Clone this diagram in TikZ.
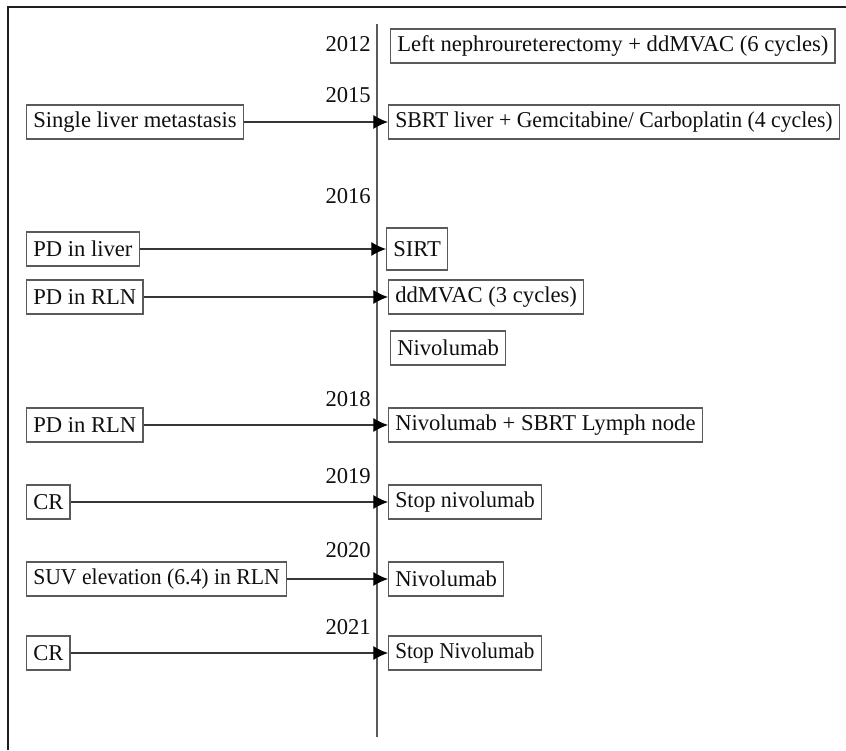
\documentclass[tikz,border=0pt]{standalone}
\usepackage{fontspec}
\usepackage{graphicx}
\setmainfont{Liberation Serif}
\usetikzlibrary{arrows.meta,positioning}
\definecolor{ink}{RGB}{15,15,15}
\definecolor{edge}{RGB}{90,90,90}
\definecolor{frame}{RGB}{30,30,30}
\newcommand{\hsq}[2]{\scalebox{#1}[1]{#2}}
\tikzset{
  >={Latex[length=4.4mm,width=4.2mm,fill=black,color=black]},
  ev/.style={draw=edge,line width=1pt,anchor=west,minimum height=1.02cm,
    inner xsep=2mm,inner ysep=0pt,text=ink,font=\fontsize{19.3}{22}\selectfont},
  yr/.style={anchor=east,inner sep=0pt,text=ink,font=\fontsize{19.3}{22}\selectfont},
  flow/.style={->,draw=edge!60!black,line width=1pt},
  axis/.style={draw=edge,line width=1pt},
}

\begin{document}
\begin{tikzpicture}[x=0.03cm,y=-0.03cm]
    \useasboundingbox (0,0) rectangle (846,750);
    \draw[frame,line width=1.1pt] (8,750) -- (8,7) -- (846,7);
    % time axis
    \coordinate (top) at (377,24);
    \coordinate (bot) at (377,737);
    \draw[axis] (top) -- (bot);
    % years
    \node[yr] (y12) at (371,44) {2012};
    \node[yr] (y15) at (371,95) {2015};
    \node[yr] (y16) at (371,196) {2016};
    \node[yr] (y18) at (371,399) {2018};
    \node[yr] (y19) at (371,476) {2019};
    \node[yr] (y20) at (371,550) {2020};
    \node[yr] (y21) at (371,627) {2021};
    % events and treatments
    \node[ev] (neph) at (390,46) {Left nephroureterectomy + ddMVAC (6 cycles)};
    \node[ev] (mets) at (26,122) {Single liver metastasis};
    \node[ev] (sbrt) at (388,122) {\hsq{0.962}{SBRT liver + Gemcitabine/ Carboplatin (4 cycles)}};
    \node[ev] (pdl) at (26,249) {PD in liver};
    \node[ev,minimum height=1.26cm] (sirt) at (386,249) {SIRT};
    \node[ev] (pdr) at (26,297) {PD in RLN};
    \node[ev] (mvac) at (388,297) {ddMVAC (3 cycles)};
    \node[ev] (niv) at (390,348) {Nivolumab};
    \node[ev] (pdr2) at (26,425) {PD in RLN};
    \node[ev] (nivs) at (388,425) {Nivolumab + SBRT Lymph node};
    \node[ev] (cr1) at (26,502) {CR};
    \node[ev] (stp1) at (388,502) {\hsq{0.97}{Stop nivolumab}};
    \node[ev] (suv) at (26,579) {\hsq{0.96}{SUV elevation (6.4) in RLN}};
    \node[ev] (niv2) at (388,579) {Nivolumab};
    \node[ev] (cr2) at (26,653) {CR};
    \node[ev] (stp2) at (388,653) {\hsq{0.935}{Stop Nivolumab}};
    \draw[flow] (mets) -- (sbrt);
    \draw[flow] (pdl) -- (sirt);
    \draw[flow] (pdr) -- (mvac);
    \draw[flow] (pdr2) -- (nivs);
    \draw[flow] (cr1) -- (stp1);
    \draw[flow] (suv) -- (niv2);
    \draw[flow] (cr2) -- (stp2);
\end{tikzpicture}
\end{document}
